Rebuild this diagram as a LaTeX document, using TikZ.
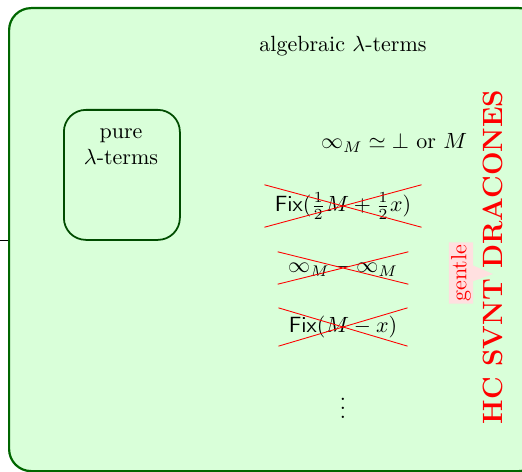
\documentclass[tikz,border=0pt]{standalone}
\usetikzlibrary{shapes.misc,shapes.callouts}
\begin{document}
\begin{tikzpicture}[x={(0.4545pt,0)},y={(0,-0.4545pt)},
  outer/.style={draw=green!40!black,line width=1pt,fill=green!15,rounded corners=10pt},
  inner/.style={draw=green!30!black,line width=0.8pt,rounded corners=10pt},
  crossed/.style={cross out,draw=red,inner xsep=4.5pt,inner ysep=3.5pt},
  label/.style={inner sep=0pt}]
\useasboundingbox (0,0) rectangle (522,472);
\node[outer,minimum width=532*0.4545pt,minimum height=463*0.4545pt,anchor=north west] (alg) at (8,7) {};
\node[label] (algt) at (343,46) {algebraic $\lambda$-terms};
\node[inner,minimum width=116*0.4545pt,minimum height=130*0.4545pt,anchor=north west] (pure) at (63,109) {};
\node[label,align=center,anchor=north] (puret) at (121,128) {pure\\$\lambda$-terms};
\node[label] (eq) at (394,143) {$\infty_M \simeq \bot$ or $M$};
\node[crossed] (f1) at (343,206) {$\mathsf{Fix}(\frac12 M+\frac12 x)$};
\node[crossed] (f2) at (343,268) {$\infty_M - \infty_M$};
\node[crossed] (f3) at (343,327) {$\mathsf{Fix}(M-x)$};
\node[label] (dots) at (343,402) {$\vdots$};
\node[label,rotate=90,text=red] (hc) at (493,257) {\scalebox{0.88}{\Large\bfseries HC SVNT DRACONES}};
\coordinate (tip) at (493,274);
\node[rectangle callout,fill=red!12,text=red,rotate=90,inner sep=1pt,callout absolute pointer={(tip)}] (gentle) at (461,273) {gentle};
\coordinate (stub) at (0,240);
\draw (stub) -- (alg.west |- stub);
\end{tikzpicture}
\end{document}
